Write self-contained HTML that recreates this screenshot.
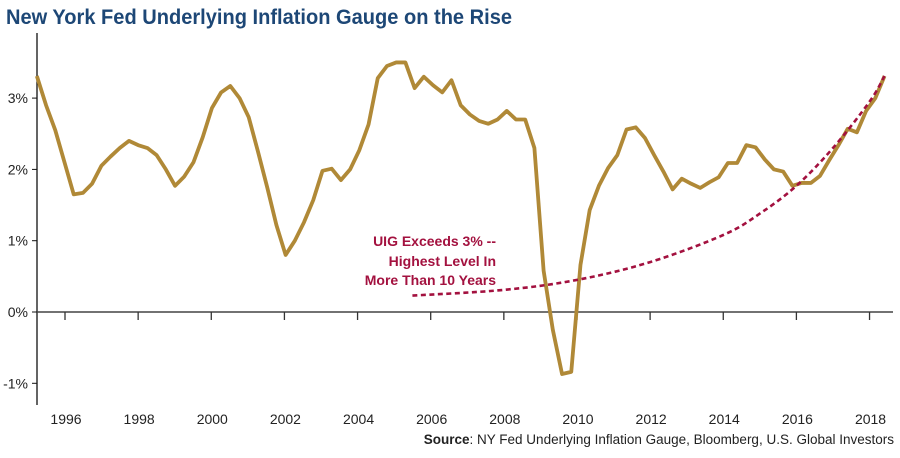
<!DOCTYPE html>
<html><head><meta charset="utf-8"><style>
html,body{margin:0;padding:0;background:#fff;}
body{width:900px;height:453px;overflow:hidden;font-family:"Liberation Sans",sans-serif;}
</style></head><body>
<svg id="chart" width="900" height="453" xmlns="http://www.w3.org/2000/svg" font-family="Liberation Sans, sans-serif">
<text x="6" y="24" font-size="21" font-weight="bold" fill="#1d4776" textLength="506" lengthAdjust="spacingAndGlyphs">New York Fed Underlying Inflation Gauge on the Rise</text>
<g id="axes"></g>
<g id="series"></g>
<g font-size="14" font-weight="bold" fill="#a3113f" text-anchor="end">
<text x="496" y="246">UIG Exceeds 3% --</text>
<text x="496" y="266">Highest Level In</text>
<text x="496" y="285">More Than 10 Years</text>
</g>
<text x="894" y="444" font-size="13.5" text-anchor="end" fill="#222"><tspan font-weight="bold">Source</tspan>: NY Fed Underlying Inflation Gauge, Bloomberg, U.S. Global Investors</text>
</svg>
<script>
const yTicks = [-1, 0, 1, 2, 3];
const yTickLabels = ["-1%", "0%", "1%", "2%", "3%"];
const xTicks = [1996, 1998, 2000, 2002, 2004, 2006, 2008, 2010, 2012, 2014, 2016, 2018];
const startYear = 1995.23;
const endYear = 2018.41;
const uigValues = [3.31,2.9,2.55,2.1,1.65,1.67,1.8,2.05,2.18,2.3,
2.4,2.34,2.3,2.2,2.0,1.77,1.9,2.1,2.45,2.86,
3.08,3.17,3.0,2.73,2.25,1.75,1.22,0.8,1.0,1.26,
1.57,1.98,2.01,1.85,2.0,2.27,2.63,3.28,3.45,3.5,
3.5,3.14,3.3,3.18,3.08,3.25,2.9,2.77,2.68,2.64,
2.7,2.82,2.7,2.7,2.3,0.58,-0.25,-0.87,-0.84,0.66,
1.43,1.77,2.02,2.2,2.56,2.59,2.44,2.2,1.97,1.72,
1.87,1.8,1.74,1.82,1.89,2.09,2.09,2.34,2.31,2.14,
2.0,1.97,1.77,1.81,1.81,1.91,2.13,2.34,2.57,2.52,
2.82,3.0,3.31];
const trendYears = [2005.5, 2008, 2010, 2012, 2014, 2015, 2016, 2017, 2018, 2018.41];
const trendValues = [0.23, 0.31, 0.45, 0.7, 1.08, 1.38, 1.77, 2.3, 2.95, 3.31];

const NS = "http://www.w3.org/2000/svg";
const x = yr => 65 + (yr - 1996) * 36.57;
const y = v => 312 - v * 71.3;
function mk(tag, attrs, parent){const e=document.createElementNS(NS,tag);for(const k in attrs)e.setAttribute(k,attrs[k]);parent.appendChild(e);return e;}
const axes = document.getElementById('axes');
const series = document.getElementById('series');

const yAxis = mk('line',{x1:37,y1:33,x2:37,y2:405,stroke:'#111','stroke-width':1.3},axes);


const zero = mk('line',{x1:37,y1:y(0),x2:893,y2:y(0),stroke:'#444','stroke-width':1.5},axes);


yTicks.forEach((t,i)=>{
  mk('line',{x1:32,y1:y(t),x2:37,y2:y(t),stroke:'#111','stroke-width':1},axes);
  const tx = mk('text',{x:28,y:y(t)+5,'font-size':14,'text-anchor':'end',fill:'#222'},axes);
  tx.textContent = yTickLabels[i];
  
  
});
xTicks.forEach(t=>{
  mk('line',{x1:x(t),y1:y(0),x2:x(t),y2:y(0)+8,stroke:'#333','stroke-width':1.3},axes);
  const tx = mk('text',{x:x(t)+1,y:424,'font-size':14,'text-anchor':'middle',fill:'#222'},axes);
  tx.textContent = t;
  
  
});

const tp = trendYears.map((yr,i)=>[x(yr),y(trendValues[i])]);
let d = 'M'+tp[0][0]+','+tp[0][1];
for(let i=0;i<tp.length-1;i++){
  const p0=tp[Math.max(0,i-1)],p1=tp[i],p2=tp[i+1],p3=tp[Math.min(tp.length-1,i+2)];
  const c1=[p1[0]+(p2[0]-p0[0])/6,p1[1]+(p2[1]-p0[1])/6];
  const c2=[p2[0]-(p3[0]-p1[0])/6,p2[1]-(p3[1]-p1[1])/6];
  d+=' C'+c1.join(',')+' '+c2.join(',')+' '+p2.join(',');
}
const step = (endYear - startYear) / (uigValues.length - 1);
const uigPts = uigValues.map((v,i)=>x(startYear+i*step)+','+y(v)).join(' ');
const line = mk('polyline',{points:uigPts,fill:'none',stroke:'#b08937','stroke-width':3.8,'stroke-linejoin':'round'},series);


const trend = mk('path',{d:d,fill:'none',stroke:'#a3113f','stroke-width':2.6,'stroke-dasharray':'5 3.5'},series);


</script>
</body></html>
